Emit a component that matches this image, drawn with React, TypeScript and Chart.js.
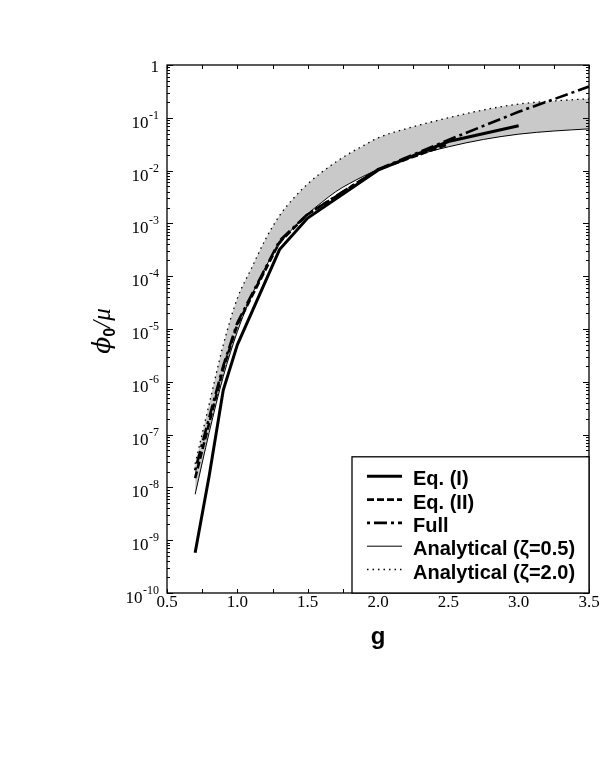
import React, { useEffect, useRef } from "react";
import { Chart, registerables } from "chart.js";

Chart.register(...registerables);

// ---- Data ----
const gAnalytical = [0.7, 0.8, 0.9, 1.0, 1.1, 1.2, 1.3, 1.4, 1.5, 1.6, 1.7, 1.8, 1.9, 2.0, 2.25, 2.5, 2.75, 3.0, 3.25, 3.5];
const analyticalZeta05 = [7.4e-9, 1.1e-7, 1.26e-6, 8.9e-6, 4.2e-5, 1.48e-4, 4.0e-4, 8.3e-4, 1.51e-3, 2.5e-3, 4.0e-3, 5.75e-3, 7.9e-3, 0.0105, 0.0186, 0.0282, 0.0389, 0.049, 0.0562, 0.0617];
const analyticalZeta20 = [2.8e-8, 3.8e-7, 5.0e-6, 3.8e-5, 1.4e-4, 5.0e-4, 1.4e-3, 3.0e-3, 5.6e-3, 9.3e-3, 0.0145, 0.0214, 0.03, 0.0417, 0.0676, 0.1, 0.141, 0.182, 0.209, 0.229];

const gEqI = [0.7, 0.8, 0.9, 1.0, 1.3, 1.5, 2.0, 2.5, 3.0];
const eqI = [5.8e-10, 1.66e-8, 7.0e-7, 5.0e-6, 3.2e-4, 1.26e-3, 0.0102, 0.0355, 0.0708];

const gEqII = [0.7, 0.8, 0.9, 1.0, 1.3, 1.5, 2.0, 2.5];
const eqII = [1.5e-8, 1.66e-7, 1.78e-6, 1.2e-5, 4.4e-4, 1.48e-3, 0.0105, 0.0316];

const gFull = [0.7, 0.8, 0.9, 1.0, 1.3, 1.5, 2.0, 2.5, 3.0, 3.5];
const full = [2.1e-8, 2.1e-7, 2.0e-6, 1.32e-5, 4.7e-4, 1.5e-3, 0.0105, 0.038, 0.13, 0.39];

const xTickValues = [0.5, 1.0, 1.5, 2.0, 2.5, 3.0, 3.5];
const yTickExponents = [0, -1, -2, -3, -4, -5, -6, -7, -8, -9, -10];

const legendLabels = ["Eq. (I)", "Eq. (II)", "Full", "Analytical (\u03B6=0.5)", "Analytical (\u03B6=2.0)"];

const xTitle = "g";

// ---- Styles ----
const lineStyles = [
  { width: 3, dash: [] as number[] },
  { width: 2.6, dash: [7, 3] },
  { width: 2.6, dash: [3, 4, 13, 4] },
  { width: 1, dash: [] as number[] },
  { width: 1.3, dash: [1.5, 4] },
];

const toPoints = (xs: number[], ys: number[]) => xs.map((x, i) => ({ x, y: ys[i] }));

const overlay = {
  id: "overlay",
  afterDatasetsDraw(chart: any) {
    const { ctx, chartArea: a, scales } = chart;
    const xs = scales.x;
    const ys = scales.y;
    ctx.save();
    ctx.strokeStyle = "#000";
    ctx.fillStyle = "#000";

    // ticks on x (bottom & top), every quarter between labelled values
    ctx.lineWidth = 1;
    const xTickAll: number[] = [];
    xTickValues.forEach((v, i) => {
      xTickAll.push(v);
      if (i < xTickValues.length - 1) xTickAll.push((v + xTickValues[i + 1]) / 2);
    });
    xTickAll.forEach((v) => {
      const px = Math.round(xs.getPixelForValue(v)) + 0.5;
      ctx.beginPath();
      ctx.moveTo(px, a.bottom);
      ctx.lineTo(px, a.bottom - 4);
      ctx.moveTo(px, a.top);
      ctx.lineTo(px, a.top + 4);
      ctx.stroke();
    });

    // ticks on y (left & right), decades and minor
    yTickExponents.forEach((e) => {
      const py = Math.round(ys.getPixelForValue(Math.pow(10, e))) + 0.5;
      ctx.beginPath();
      ctx.moveTo(a.left, py);
      ctx.lineTo(a.left + 6, py);
      ctx.moveTo(a.right, py);
      ctx.lineTo(a.right - 6, py);
      ctx.stroke();
      if (e < 0) {
        for (let k = 2; k <= 9; k++) {
          const pm = Math.round(ys.getPixelForValue(k * Math.pow(10, e))) + 0.5;
          ctx.beginPath();
          ctx.moveTo(a.left, pm);
          ctx.lineTo(a.left + 3, pm);
          ctx.moveTo(a.right, pm);
          ctx.lineTo(a.right - 3, pm);
          ctx.stroke();
        }
      }
    });

    // frame
    ctx.lineWidth = 1.3;
    ctx.strokeRect(a.left, a.top, a.right - a.left, a.bottom - a.top);

    // x tick labels
    ctx.font = '17px "Liberation Serif"';
    ctx.textAlign = "center";
    ctx.textBaseline = "alphabetic";
    xTickValues.forEach((v) => {
      ctx.fillText(v.toFixed(1), xs.getPixelForValue(v), a.bottom + 14);
    });

    // y tick labels (10^n with superscript)
    const rightEdge = a.left - 8;
    yTickExponents.forEach((e) => {
      const py = ys.getPixelForValue(Math.pow(10, e));
      ctx.textAlign = "right";
      if (e === 0) {
        ctx.font = '17px "Liberation Serif"';
        ctx.fillText("1", rightEdge, py + 6.5);
      } else {
        const sup = "-" + String(-e);
        ctx.font = '12px "Liberation Serif"';
        const wSup = ctx.measureText(sup).width;
        ctx.fillText(sup, rightEdge, py + 1);
        ctx.font = '17px "Liberation Serif"';
        ctx.fillText("10", rightEdge - wSup - 0.5, py + 10);
      }
    });

    // x title
    ctx.font = 'bold 24px "Liberation Sans"';
    ctx.textAlign = "center";
    ctx.fillText(xTitle, (a.left + a.right) / 2, a.bottom + 51);

    // y title: phi_0 / mu
    ctx.save();
    ctx.translate(a.left - 57, (a.top + a.bottom) / 2 + 2);
    ctx.rotate(-Math.PI / 2);
    ctx.textAlign = "left";
    const fMain = 'italic 25px "DejaVu Serif"';
    const fMu = 'italic 25px "Liberation Serif"';
    const fSub = 'bold 16px "Liberation Sans"';
    ctx.font = fMain;
    const wPhi = ctx.measureText("\u03D5").width;
    ctx.font = fMu;
    const wRest = ctx.measureText("/\u03BC").width;
    ctx.font = fSub;
    const wZero = ctx.measureText("0").width;
    let cx = -(wPhi + wZero + wRest) / 2;
    ctx.font = fMain;
    ctx.fillText("\u03D5", cx, 0);
    cx += wPhi;
    ctx.font = fSub;
    ctx.fillText("0", cx, 5);
    cx += wZero;
    ctx.font = fMu;
    ctx.fillText("/\u03BC", cx, 0);
    ctx.restore();

    // legend box
    const rowGap = 23.3;
    const n = legendLabels.length;
    const boxLeft = 352;
    const boxBottom = a.bottom;
    const firstRow = boxBottom - 21.5 - (n - 1) * rowGap;
    const boxTop = firstRow - 21.5;
    ctx.fillStyle = "#fff";
    ctx.fillRect(boxLeft, boxTop, a.right - boxLeft, boxBottom - boxTop);
    ctx.fillStyle = "#000";
    ctx.lineWidth = 1.3;
    ctx.strokeRect(boxLeft, boxTop, a.right - boxLeft, boxBottom - boxTop);
    ctx.font = 'bold 20px "Liberation Sans"';
    ctx.textAlign = "left";
    legendLabels.forEach((label, i) => {
      const ry = firstRow + i * rowGap;
      const st = lineStyles[i];
      ctx.save();
      ctx.lineWidth = st.width;
      ctx.setLineDash(st.dash);
      ctx.lineCap = "butt";
      ctx.beginPath();
      ctx.moveTo(boxLeft + 15, ry - 2);
      ctx.lineTo(boxLeft + 50, ry - 2);
      ctx.stroke();
      ctx.restore();
      ctx.fillText(label, boxLeft + 61, ry + 7);
    });

    ctx.restore();
  },
};

export default function App() {
  const ref = useRef<HTMLCanvasElement>(null);
  useEffect(() => {
    document.body.style.margin = "0";
    const mk = (label: string, xsArr: number[], ysArr: number[], i: number, extra: any = {}) => ({
      label,
      data: toPoints(xsArr, ysArr),
      borderColor: "#000",
      borderWidth: lineStyles[i].width,
      borderDash: lineStyles[i].dash,
      pointRadius: 0,
      tension: 0,
      fill: false,
      ...extra,
    });
    const chart = new Chart(ref.current as HTMLCanvasElement, {
      type: "line",
      data: {
        datasets: [
          mk(legendLabels[0], gEqI, eqI, 0),
          mk(legendLabels[1], gEqII, eqII, 1),
          mk(legendLabels[2], gFull, full, 2),
          mk(legendLabels[3], gAnalytical, analyticalZeta05, 3, { cubicInterpolationMode: "monotone" }),
          mk(legendLabels[4], gAnalytical, analyticalZeta20, 4, {
            cubicInterpolationMode: "monotone",
            fill: "-1",
            backgroundColor: "#c9c9c9",
          }),
        ],
      },
      options: {
        responsive: false,
        animation: false,
        layout: { padding: { left: 167, right: 20, top: 65, bottom: 167 } },
        scales: {
          x: { type: "linear", min: 0.5, max: 3.5, display: false },
          y: { type: "logarithmic", min: 1e-10, max: 1, display: false },
        },
        plugins: { legend: { display: false }, tooltip: { enabled: false } },
      },
      plugins: [overlay],
    } as any);
    return () => chart.destroy();
  }, []);
  return <canvas ref={ref} width={609} height={760} style={{ display: "block" }} />;
}
